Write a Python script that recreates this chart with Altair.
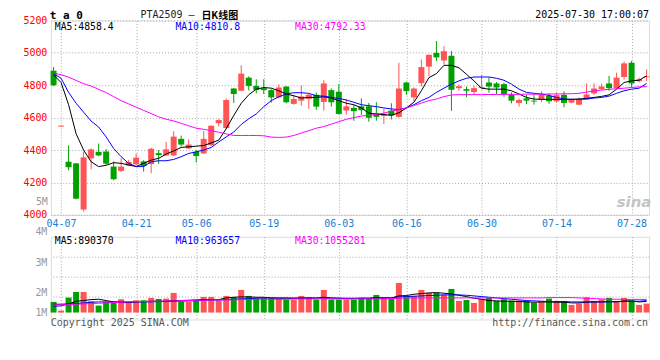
import altair as alt
import pandas as pd
import numpy as np

# ---------------- data ----------------
holidays = ["2025-04-04", "2025-05-01", "2025-05-02", "2025-05-05", "2025-06-02"]
days = [d for d in pd.bdate_range("2025-04-03", "2025-07-30") if d.strftime("%Y-%m-%d") not in holidays]
dates = [d.strftime("%m-%d") for d in days]

opens = [4890, 4545, 4328, 4318, 4033, 4349, 4389, 4391, 4298, 4271,
         4304, 4312, 4330, 4314, 4381, 4367, 4367, 4469, 4410, 4389,
         4379, 4430, 4566, 4536, 4780, 4766, 4847, 4796, 4782, 4770,
         4725, 4792, 4685, 4705, 4715, 4741, 4697, 4770, 4760, 4644,
         4660, 4670, 4670, 4628, 4611, 4644, 4605, 4817, 4725, 4813,
         4915, 5000, 4953, 4982, 4782, 4776, 4758, 4784, 4817, 4811,
         4807, 4741, 4691, 4719, 4705, 4711, 4735, 4701, 4741, 4693,
         4680, 4713, 4750, 4776, 4811, 4782, 4851, 4939, 4825, 4849]
highs = [4912, 4551, 4428, 4320, 4390, 4410, 4440, 4406, 4330, 4349,
         4338, 4379, 4338, 4414, 4400, 4450, 4516, 4489, 4467, 4400,
         4518, 4552, 4593, 4719, 4782, 4923, 4855, 4837, 4837, 4776,
         4805, 4794, 4741, 4798, 4745, 4755, 4831, 4780, 4807, 4715,
         4680, 4719, 4691, 4695, 4654, 4689, 4939, 4820, 4786, 4959,
         4990, 5073, 5041, 5012, 4805, 4792, 4796, 4864, 4847, 4820,
         4815, 4756, 4719, 4741, 4741, 4762, 4750, 4756, 4762, 4719,
         4725, 4811, 4811, 4810, 4858, 4878, 4947, 4951, 4847, 4898]
lows = [4795, 4545, 4275, 4096, 4020, 4281, 4362, 4310, 4214, 4265,
        4300, 4304, 4267, 4257, 4314, 4363, 4363, 4422, 4406, 4324,
        4375, 4425, 4546, 4530, 4691, 4764, 4768, 4750, 4746, 4693,
        4719, 4689, 4680, 4674, 4654, 4648, 4644, 4668, 4619, 4619,
        4581, 4617, 4575, 4581, 4560, 4589, 4600, 4741, 4701, 4794,
        4855, 4949, 4929, 4642, 4766, 4727, 4743, 4780, 4754, 4746,
        4729, 4689, 4668, 4684, 4680, 4697, 4685, 4693, 4664, 4689,
        4676, 4711, 4741, 4770, 4766, 4776, 4835, 4786, 4817, 4827]
closes = [4800, 4551, 4294, 4100, 4355, 4404, 4367, 4316, 4220, 4298,
          4326, 4353, 4302, 4408, 4369, 4404, 4483, 4434, 4434, 4363,
          4469, 4550, 4585, 4709, 4746, 4872, 4796, 4772, 4770, 4725,
          4786, 4695, 4715, 4731, 4741, 4668, 4811, 4695, 4623, 4670,
          4640, 4646, 4599, 4605, 4623, 4613, 4780, 4764, 4780, 4912,
          4988, 4972, 5010, 4772, 4794, 4766, 4782, 4790, 4792, 4786,
          4746, 4705, 4709, 4705, 4700, 4741, 4701, 4739, 4691, 4711,
          4711, 4743, 4780, 4792, 4782, 4847, 4935, 4811, 4837, 4855]

ma5 = [4864, 4817, 4680, 4501, 4400, 4328, 4298, 4306, 4322, 4318,
       4308, 4298, 4318, 4338, 4349, 4375, 4395, 4416, 4420, 4424,
       4428, 4444, 4461, 4532, 4613, 4689, 4741, 4776, 4786, 4782,
       4766, 4746, 4735, 4721, 4725, 4725, 4729, 4721, 4705, 4689,
       4680, 4660, 4628, 4621, 4619, 4615, 4630, 4660, 4695, 4766,
       4847, 4872, 4923, 4923, 4908, 4868, 4827, 4782, 4776, 4776,
       4776, 4766, 4746, 4725, 4715, 4713, 4713, 4713, 4713, 4713,
       4715, 4719, 4725, 4731, 4741, 4776, 4817, 4827, 4831, 4858]
ma10 = [4872, 4843, 4756, 4689, 4634, 4579, 4542, 4481, 4410, 4359,
        4318, 4298, 4298, 4328, 4334, 4334, 4342, 4359, 4379, 4389,
        4400, 4416, 4450, 4481, 4511, 4558, 4593, 4623, 4668, 4705,
        4729, 4746, 4754, 4754, 4750, 4735, 4733, 4725, 4719, 4709,
        4695, 4680, 4674, 4668, 4660, 4654, 4650, 4660, 4680, 4705,
        4725, 4756, 4782, 4807, 4827, 4843, 4851, 4851, 4851, 4843,
        4831, 4807, 4776, 4756, 4750, 4746, 4737, 4725, 4715, 4713,
        4713, 4715, 4721, 4725, 4733, 4750, 4766, 4776, 4782, 4811]
ma30 = [4875, 4865, 4850, 4830, 4810, 4795, 4775, 4755, 4730, 4705,
        4685, 4665, 4645, 4625, 4605, 4590, 4580, 4565, 4550, 4535,
        4528, 4520, 4510, 4500, 4490, 4490, 4490, 4490, 4488, 4480,
        4478, 4480, 4490, 4505, 4520, 4535, 4545, 4560, 4575, 4590,
        4600, 4610, 4615, 4620, 4628, 4640, 4650, 4660, 4675, 4690,
        4705, 4715, 4730, 4740, 4742, 4742, 4742, 4742, 4743, 4743,
        4744, 4744, 4744, 4745, 4745, 4745, 4746, 4746, 4747, 4748,
        4750, 4758, 4765, 4770, 4775, 4778, 4782, 4786, 4790, 4792]

vols = [854, 160, 1200, 1655, 1655, 908, 560, 854, 800, 1070,
        854, 988, 988, 1175, 1095, 1120, 1575, 854, 854, 988,
        1255, 1255, 988, 1335, 1228, 1815, 1335, 1175, 1175, 1175,
        1120, 1040, 1040, 1335, 1255, 1040, 1815, 1040, 1040, 1040,
        1040, 1175, 1120, 1415, 1175, 1095, 2376, 1335, 1335, 1815,
        1575, 1575, 1440, 1895, 935, 1015, 775, 1070, 1175, 935,
        1070, 960, 960, 935, 775, 935, 1120, 935, 935, 615,
        720, 1230, 935, 1070, 1175, 935, 1175, 960, 615, 720]
vma5 = [667, 667, 694, 908, 961, 1041, 1068, 961, 854, 801,
        801, 854, 881, 908, 908, 908, 961, 961, 988, 1015,
        1041, 1041, 1041, 1175, 1228, 1255, 1255, 1228, 1228, 1175,
        1148, 1148, 1121, 1148, 1148, 1148, 1228, 1175, 1148, 1121,
        1121, 1148, 1148, 1201, 1175, 1175, 1335, 1362, 1468, 1522,
        1575, 1602, 1549, 1495, 1388, 1282, 1148, 1068, 961, 935,
        908, 908, 881, 854, 828, 854, 854, 828, 828, 774,
        774, 828, 854, 854, 881, 854, 935, 935, 854, 890]
vma10 = [507, 534, 694, 721, 774, 828, 854, 854, 854, 854,
         854, 854, 854, 854, 881, 881, 908, 908, 935, 961,
         988, 1015, 1015, 1041, 1068, 1095, 1121, 1148, 1175, 1175,
         1175, 1175, 1175, 1175, 1175, 1175, 1175, 1148, 1148, 1148,
         1148, 1148, 1148, 1175, 1175, 1175, 1255, 1282, 1308, 1335,
         1362, 1388, 1415, 1415, 1415, 1388, 1335, 1282, 1228, 1175,
         1121, 1068, 1015, 961, 935, 908, 881, 881, 881, 854,
         854, 854, 854, 854, 854, 881, 881, 908, 908, 964]
vma30 = [614, 614, 640, 667, 694, 721, 748, 774, 801, 828,
         854, 881, 881, 908, 908, 935, 935, 961, 961, 988,
         988, 1015, 1015, 1015, 1015, 1041, 1041, 1068, 1068, 1068,
         1068, 1068, 1095, 1095, 1095, 1095, 1095, 1095, 1095, 1095,
         1095, 1095, 1095, 1095, 1095, 1121, 1148, 1175, 1175, 1175,
         1175, 1175, 1175, 1175, 1175, 1175, 1175, 1175, 1175, 1175,
         1175, 1175, 1175, 1175, 1175, 1175, 1201, 1201, 1201, 1201,
         1175, 1148, 1121, 1095, 1068, 1068, 1055, 1055, 1055, 1055]

tick_labels = ["04-07", "04-21", "05-06", "05-19", "06-03", "06-16", "06-30", "07-14", "07-28"]
price_ticks = [4000, 4200, 4400, 4600, 4800, 5000, 5200]
vol_tick_vals = [6080000, 4024000, 1600000, 0]
vol_tick_text = ["4M", "3M", "2M", "1M"]
vol_grid_vals = [4480000, 2880000, 1280000]
series = ["MA5", "MA10", "MA30"]

# ---------------- tables ----------------
n = len(dates)
idx = list(range(n))
df = pd.DataFrame({"i": idx, "date": dates, "open": opens, "high": highs,
                   "low": lows, "close": closes,
                   "vol": [v * 1000 for v in vols]})
df["dir"] = np.where(df["close"] >= df["open"], "up", "down")

ma_df = pd.DataFrame({"i": idx * 3, "val": ma5 + ma10 + ma30,
                      "s": ["MA5"] * n + ["MA10"] * n + ["MA30"] * n})
vma_df = pd.DataFrame({"i": idx * 3,
                       "val": [v * 1000 for v in vma5 + vma10 + vma30],
                       "s": ["MA5"] * n + ["MA10"] * n + ["MA30"] * n})

# ---------------- styles ----------------
RED = "#ff5454"
GREEN = "#00a000"
MONO = "DejaVu Sans Mono"
GRID = "#aaaaaa"
LINE_COLORS = ["#000000", "#0000ff", "#ff00ff"]

tick_idx = [dates.index(t) for t in tick_labels]
x_label_expr = ("[" + ",".join("'%s'" % t for t in tick_labels) + "][indexof(["
                + ",".join(str(v) for v in tick_idx) + "], datum.value)]")
vol_label_expr = ("[" + ",".join("'%s'" % t for t in vol_tick_text) + "][indexof(["
                  + ",".join(str(v) for v in vol_tick_vals) + "], datum.value)]")

xs = alt.Scale(domain=[-0.36, 79.32], nice=False, zero=False, padding=0)
ys = alt.Scale(domain=[4000, 5200], nice=False, zero=False, padding=0)
ys_v = alt.Scale(domain=[-560000, 6080000], nice=False, zero=False, padding=0)

xaxis_p = alt.Axis(values=tick_idx, labelExpr=x_label_expr, grid=True, gridColor=GRID,
                   gridDash=[1, 2], ticks=False, domain=False, labelColor="#1a80d4",
                   labelFont=MONO, labelFontSize=10, labelPadding=4, labelFlush=False,
                   labelOverlap=False, title=None)
xaxis_v = alt.Axis(values=tick_idx, labels=False, grid=True, gridColor=GRID,
                   gridDash=[1, 2], ticks=False, domain=False, title=None)
yaxis_p = alt.Axis(values=price_ticks, grid=True, gridColor=GRID, gridDash=[1, 2],
                   ticks=False, domain=False, labelColor="#ff0000", labelFont=MONO,
                   labelFontSize=10, labelPadding=4, labelOverlap=False, format="d",
                   title=None)
yaxis_v = alt.Axis(values=vol_tick_vals, labelExpr=vol_label_expr, grid=False, ticks=False,
                   domain=False, labelColor="#999999", labelFont=MONO, labelFontSize=10,
                   labelPadding=4, labelOverlap=False, title=None,
                   labelBaseline={"condition": {"test": "datum.value > 5000000", "value": "bottom"},
                                  "value": "middle"})
yaxis_vgrid = alt.Axis(values=vol_grid_vals, orient="right", grid=True, gridColor=GRID,
                       gridDash=[1, 2], labels=False, ticks=False, domain=False, title=None)

dir_color = alt.Color("dir:N", scale=alt.Scale(domain=["up", "down"], range=[RED, GREEN]),
                      legend=None)
ma_color = alt.Color("s:N", scale=alt.Scale(domain=series, range=LINE_COLORS), legend=None)
ma_width = alt.StrokeWidth("s:N", scale=alt.Scale(domain=series, range=[1, 1, 1.6]),
                           legend=None)

one = pd.DataFrame({"k": [0]})


def txt(s, x, y, color="#000000", size=10, weight="normal", align="left",
        baseline="alphabetic", font=MONO, style="normal"):
    return alt.Chart(one).mark_text(
        text=s, align=align, baseline=baseline, font=font, fontSize=size,
        fontWeight=weight, color=color, fontStyle=style
    ).encode(x=alt.value(x), y=alt.value(y))


# invisible corner anchor: fixes where the drawing starts (top-left of the page)
anchor = alt.Chart(one).mark_rule(strokeWidth=0, opacity=0).encode(
    x=alt.value(-42), x2=alt.value(-42), y=alt.value(-10.5), y2=alt.value(-10))

# ---------------- price panel ----------------
px = alt.X("i:Q", scale=xs, axis=xaxis_p, title=None)
wick = alt.Chart(df).mark_rule(strokeWidth=1).encode(
    x=px, y=alt.Y("low:Q", scale=ys, axis=yaxis_p, title=None), y2="high:Q", color=dir_color)
body = alt.Chart(df).mark_bar(size=6).encode(
    x=px, y=alt.Y("open:Q", scale=ys, axis=yaxis_p, title=None), y2="close:Q", color=dir_color)
lines = alt.Chart(ma_df).mark_line().encode(
    x=px, y=alt.Y("val:Q", scale=ys, axis=yaxis_p, title=None), color=ma_color,
    strokeWidth=ma_width, detail="s:N")

price_texts = [
    txt("t a 0", -1, -1.8, size=11, weight="bold"),
    txt("PTA2509 –", 90, -2.2, color="#222222", size=10),
    txt("日K线图", 151, -1.6, size=10, font="Noto Sans CJK SC", weight="bold"),
    txt("2025-07-30 17:00:07", 600, -2.5, size=10, align="right"),
    txt("MA5:4858.4", 4, 9.3, size=9.8),
    txt("MA10:4810.8", 125, 9.3, color="#0000ff", size=9.8),
    txt("MA30:4792.33", 245, 9.3, color="#ff00ff", size=9.8),
    txt("5M", -3, 182.5, color="#999999", align="right", baseline="middle"),
    txt("sina", 585, 187, color="#c4c4c4", size=15, weight="bold", align="center",
        font="DejaVu Sans", style="italic"),
]

price = alt.layer(wick, body, lines, anchor, *price_texts).resolve_scale(
    color="independent").properties(width=600, height=195)

# ---------------- volume panel ----------------
vx = alt.X("i:Q", scale=xs, axis=xaxis_v, title=None)
vbars = alt.Chart(df).mark_bar(size=6).encode(
    x=vx, y=alt.Y("vol:Q", scale=ys_v, axis=yaxis_v, title=None), y2=alt.datum(0),
    color=dir_color)
vlines = alt.Chart(vma_df).mark_line().encode(
    x=vx, y=alt.Y("val:Q", scale=ys_v, axis=yaxis_vgrid, title=None), color=ma_color,
    strokeWidth=ma_width, detail="s:N")

vol_texts = [
    txt("MA5:890370", 4, 6.8, size=9.8),
    txt("MA10:963657", 125, 6.8, color="#0000ff", size=9.8),
    txt("MA30:1055281", 245, 6.8, color="#ff00ff", size=9.8),
    txt("Copyright 2025 SINA.COM", 0, 89.5, color="#555555"),
    txt("http://finance.sina.com.cn", 599, 89.5, color="#555555", align="right"),
]

vol = alt.layer(vbars, vlines, *vol_texts).resolve_scale(
    color="independent").resolve_axis(y="independent").properties(width=600, height=83)

chart = alt.vconcat(price, vol, spacing=22, bounds="flush").properties(
    padding=0,
).configure_view(stroke="#aaaaaa", strokeWidth=2).configure(background="white")

chart.save("out.html", embed_options={"renderer": "svg", "actions": False})
